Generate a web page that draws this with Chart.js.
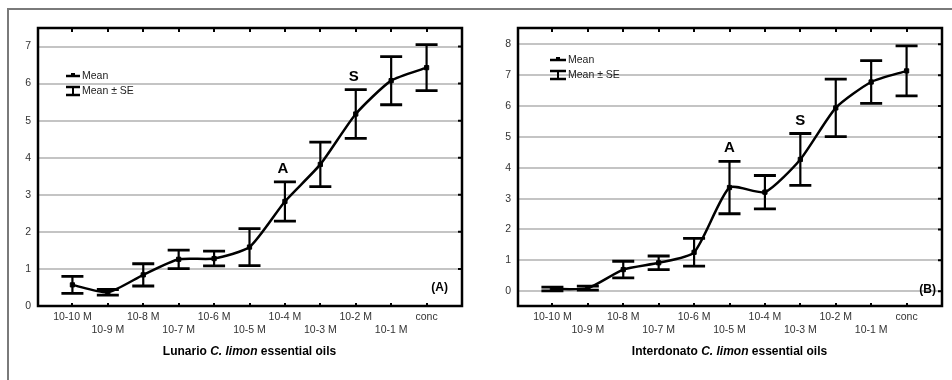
<!DOCTYPE html>
<html>
<head>
<meta charset="utf-8">
<script src="https://cdn.jsdelivr.net/npm/chart.js@4/dist/chart.umd.min.js"></script>
<style>
  html, body { margin: 0; padding: 0; background: #fff; }
  #wrap { position: relative; width: 952px; height: 380px; overflow: hidden; background: #fff; }
  canvas { position: absolute; top: 0; }
  #c1 { left: 0; }
  #c2 { left: 476px; }
  .hline { position: absolute; left: 7px; top: 8px; width: 945px; height: 2px; background: #7a7a7a; }
  .vline { position: absolute; left: 7px; top: 8px; width: 2px; height: 372px; background: #7a7a7a; }
</style>
</head>
<body>
<div id="wrap">
  <div class="hline"></div>
  <div class="vline"></div>
  <canvas id="c1" width="476" height="380"></canvas>
  <canvas id="c2" width="476" height="380"></canvas>
</div>
<script>
// ---- data ----
const categories = ['10-10 M','10-9 M','10-8 M','10-7 M','10-6 M','10-5 M','10-4 M','10-3 M','10-2 M','10-1 M','conc'];

const lunarioMean = [0.57, 0.37, 0.84, 1.26, 1.28, 1.59, 2.82, 3.82, 5.18, 6.08, 6.43];
const lunarioSE   = [0.23, 0.075, 0.30, 0.25, 0.20, 0.50, 0.53, 0.60, 0.66, 0.65, 0.62];

const interdonatoMean = [0.07, 0.10, 0.70, 0.92, 1.26, 3.36, 3.21, 4.27, 5.94, 6.78, 7.14];
const interdonatoSE   = [0.06, 0.065, 0.27, 0.22, 0.45, 0.85, 0.54, 0.84, 0.93, 0.69, 0.81];

const lunarioYTicks = [0, 1, 2, 3, 4, 5, 6, 7];
const interdonatoYTicks = [0, 1, 2, 3, 4, 5, 6, 7, 8];

const markLetters = ['A', 'S'];
const lunarioMarkIndex = [6, 8];
const interdonatoMarkIndex = [5, 7];

const legendLabels = ['Mean', 'Mean \u00b1 SE'];

const FONT = '"Liberation Sans", Arial, Helvetica, sans-serif';

function makeChart(canvasId, cfg) {
  const errPlugin = {
    id: 'errAndDecor',
    beforeDatasetsDraw(chart) {
      const ctx = chart.ctx, xs = chart.scales.x, ys = chart.scales.y;
      ctx.save();
      ctx.strokeStyle = '#000';
      cfg.mean.forEach((m, i) => {
        const x = xs.getPixelForValue(i);
        const yh = ys.getPixelForValue(m + cfg.se[i]);
        const yl = ys.getPixelForValue(m - cfg.se[i]);
        ctx.lineWidth = 2.2;
        ctx.beginPath(); ctx.moveTo(x, yh); ctx.lineTo(x, yl); ctx.stroke();
        ctx.lineWidth = 2.8;
        ctx.beginPath();
        ctx.moveTo(x - 11, yh); ctx.lineTo(x + 11, yh);
        ctx.moveTo(x - 11, yl); ctx.lineTo(x + 11, yl);
        ctx.stroke();
      });
      ctx.restore();
    },
    afterDraw(chart) {
      const ctx = chart.ctx, xs = chart.scales.x, ys = chart.scales.y;
      const a = chart.chartArea;
      ctx.save();
      // frame
      ctx.strokeStyle = '#000';
      ctx.lineWidth = 2.5;
      ctx.strokeRect(a.left + 1, a.top, a.right - a.left - 1, a.bottom - a.top);
      // inner tick marks (top & bottom at categories, right at y ticks)
      ctx.lineWidth = 2;
      ctx.beginPath();
      categories.forEach((c, i) => {
        const x = Math.round(xs.getPixelForValue(i));
        ctx.moveTo(x, a.top); ctx.lineTo(x, a.top + 4);
        ctx.moveTo(x, a.bottom); ctx.lineTo(x, a.bottom - 3);
      });
      cfg.yTicks.forEach(v => {
        const y = ys.getPixelForValue(v);
        ctx.moveTo(a.right, y); ctx.lineTo(a.right - 4, y);
      });
      ctx.stroke();

      // legend
      const lg = cfg.legend;
      ctx.lineWidth = 2.5;
      ctx.beginPath();
      ctx.moveTo(lg.x, lg.y1); ctx.lineTo(lg.x + lg.w, lg.y1);
      ctx.stroke();
      ctx.fillStyle = '#000';
      ctx.fillRect(lg.x + lg.w / 2 - 2, lg.y1 - 3, 4, 4);
      ctx.beginPath();
      ctx.lineWidth = 2;
      ctx.moveTo(lg.x + lg.w / 2, lg.y2 - 4); ctx.lineTo(lg.x + lg.w / 2, lg.y2 + 4);
      ctx.stroke();
      ctx.lineWidth = 2.5;
      ctx.beginPath();
      ctx.moveTo(lg.x, lg.y2 - 4); ctx.lineTo(lg.x + lg.w, lg.y2 - 4);
      ctx.moveTo(lg.x, lg.y2 + 4); ctx.lineTo(lg.x + lg.w, lg.y2 + 4);
      ctx.stroke();
      ctx.fillStyle = '#222';
      ctx.font = '10.5px ' + FONT;
      ctx.textBaseline = 'middle';
      ctx.textAlign = 'left';
      ctx.fillText(legendLabels[0], lg.x + lg.w + 2, lg.y1);
      ctx.fillText(legendLabels[1], lg.x + lg.w + 2, lg.y2);

      // significance letters
      ctx.fillStyle = '#000';
      ctx.font = 'bold 15px ' + FONT;
      ctx.textAlign = 'center';
      cfg.markIndex.forEach((idx, k) => {
        const x = xs.getPixelForValue(idx) + cfg.markDx;
        const y = ys.getPixelForValue(cfg.mean[idx] + cfg.se[idx]) - 13;
        ctx.fillText(markLetters[k], x, y);
      });

      // panel label
      ctx.font = 'bold 12px ' + FONT;
      ctx.textAlign = 'right';
      ctx.fillText(cfg.panel, a.right - cfg.panelDx, cfg.panelY);

      // title with mixed styles
      const parts = cfg.title;
      let total = 0;
      parts.forEach(p => { ctx.font = p[1] + ' 12px ' + FONT; total += ctx.measureText(p[0]).width; });
      let x = (a.left + a.right) / 2 - total / 2;
      ctx.textAlign = 'left';
      parts.forEach(p => {
        ctx.font = p[1] + ' 12px ' + FONT;
        ctx.fillText(p[0], x, 352);
        x += ctx.measureText(p[0]).width;
      });
      ctx.restore();
    }
  };

  return new Chart(document.getElementById(canvasId), {
    type: 'line',
    data: {
      datasets: [{
        data: cfg.mean.map((v, i) => ({ x: i, y: v })),
        borderColor: '#000',
        backgroundColor: '#000',
        borderWidth: 2.5,
        pointStyle: 'rect',
        pointRadius: 3,
        pointBackgroundColor: '#000',
        pointBorderColor: '#000',
        pointBorderWidth: 1,
        tension: 0.2,
        fill: false
      }]
    },
    options: {
      responsive: false,
      devicePixelRatio: 1,
      animation: false,
      layout: { padding: { left: 0, top: 28, right: cfg.padRight, bottom: 0 } },
      plugins: { legend: { display: false }, tooltip: { enabled: false }, title: { display: false } },
      scales: {
        x: {
          type: 'linear',
          min: -1, max: 11,
          afterBuildTicks: axis => { axis.ticks = categories.map((c, i) => ({ value: i })); },
          afterFit: axis => { axis.height = 74; },
          grid: { display: false, drawTicks: false },
          border: { display: false },
          ticks: {
            autoSkip: false, maxRotation: 0, minRotation: 0,
            padding: 4,
            color: '#333',
            font: { family: FONT, size: 10.5, lineHeight: 1.27 },
            callback: v => {
              const i = Math.round(v);
              return i % 2 === 0 ? categories[i] : ['', categories[i]];
            }
          }
        },
        y: {
          min: cfg.yMin, max: cfg.yMax,
          afterBuildTicks: axis => { axis.ticks = cfg.yTicks.map(v => ({ value: v })); },
          afterFit: axis => { axis.width = cfg.yWidth; },
          grid: { color: '#c4c4c4', lineWidth: 2, drawTicks: false },
          border: { display: false },
          ticks: {
            padding: 6,
            color: '#333',
            font: { family: FONT, size: 10.5 },
            callback: v => String(v)
          }
        }
      }
    },
    plugins: [errPlugin]
  });
}

makeChart('c1', {
  mean: lunarioMean, se: lunarioSE,
  yMin: 0, yMax: 7.5, yTicks: lunarioYTicks,
  yWidth: 37, padRight: 14,
  markIndex: lunarioMarkIndex, markDx: -2,
  legend: { x: 66, w: 14, y1: 76, y2: 91 },
  panel: '(A)', panelDx: 14, panelY: 288,
  title: [['Lunario ', 'bold'], ['C. limon', 'italic bold'], [' essential oils', 'bold']]
});

makeChart('c2', {
  mean: interdonatoMean, se: interdonatoSE,
  yMin: -0.48, yMax: 8.53, yTicks: interdonatoYTicks,
  yWidth: 41, padRight: 10,
  markIndex: interdonatoMarkIndex, markDx: 0,
  legend: { x: 74, w: 16, y1: 60, y2: 75 },
  panel: '(B)', panelDx: 6, panelY: 290,
  title: [['Interdonato ', 'bold'], ['C. limon', 'italic bold'], [' essential oils', 'bold']]
});
</script>
</body>
</html>
